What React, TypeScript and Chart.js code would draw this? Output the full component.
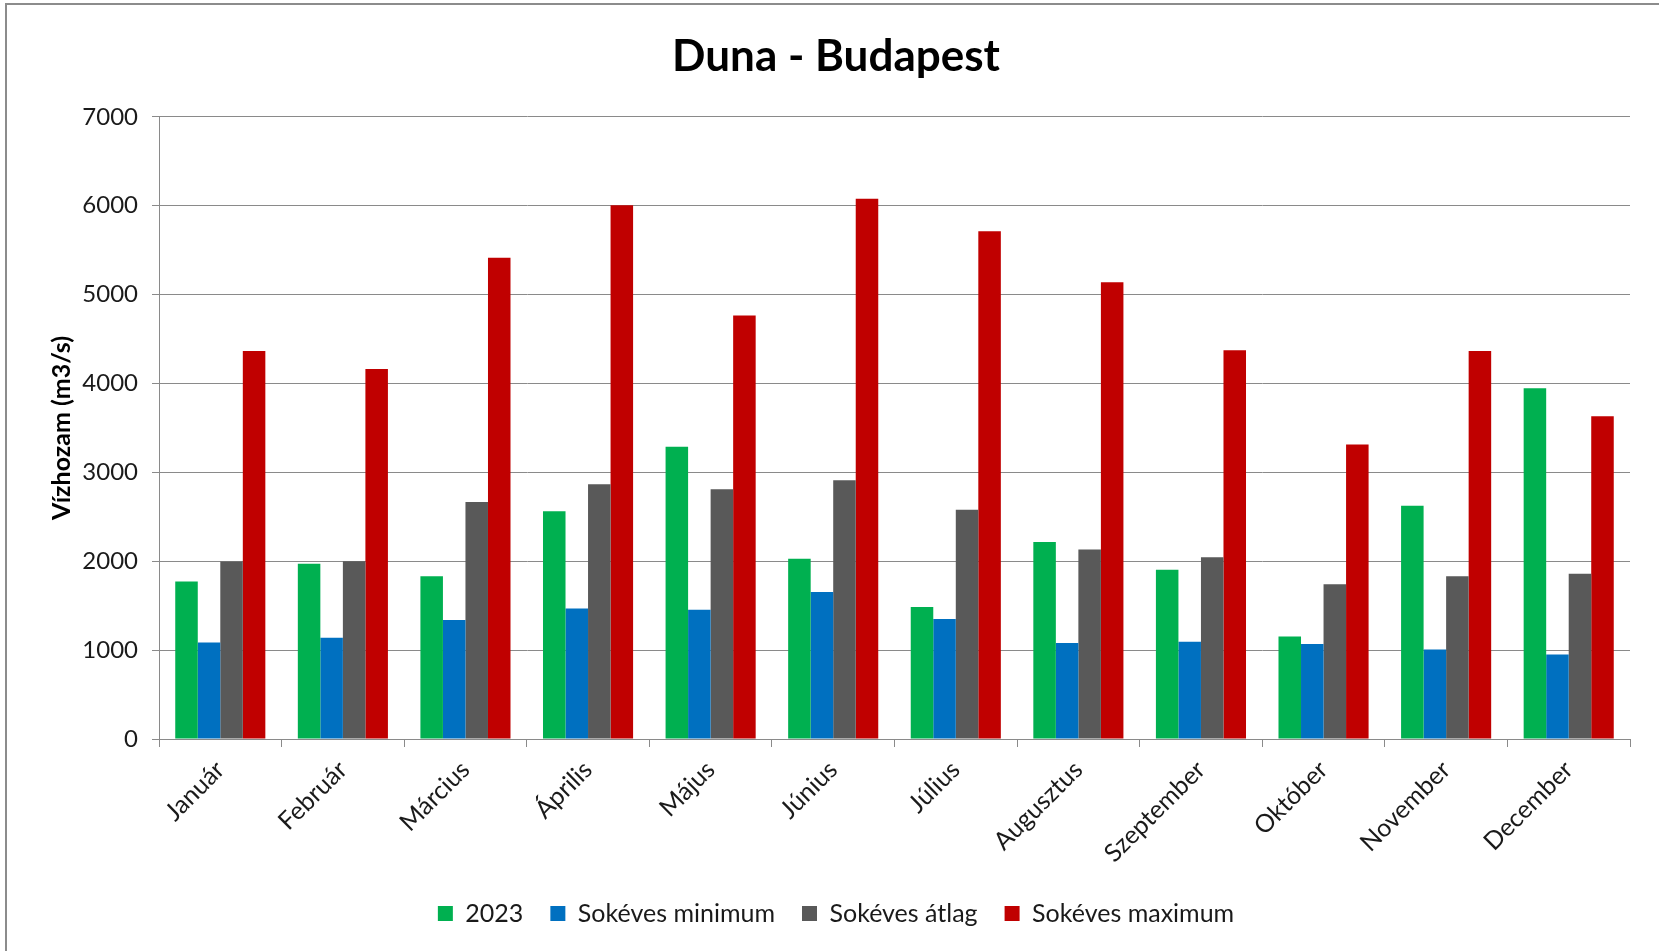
import React, { useEffect, useRef } from "react";
import { Chart, registerables } from "chart.js";

Chart.register(...registerables);

const months = ["Január", "Február", "Március", "Április", "Május", "Június", "Július", "Augusztus", "Szeptember", "Október", "November", "December"];
const year2023 = [1771, 1971, 1830, 2561, 3289, 2029, 1484, 2216, 1904, 1152, 2624, 3946];
const longMin = [1085, 1139, 1339, 1468, 1455, 1655, 1351, 1081, 1094, 1069, 1006, 952];
const longAvg = [1996, 2000, 2665, 2865, 2811, 2911, 2578, 2133, 2046, 1742, 1830, 1859];
const longMax = [4366, 4162, 5414, 6004, 4765, 6079, 5713, 5139, 4374, 3314, 4366, 3630];
const seriesNames = ["2023", "Sokéves minimum", "Sokéves átlag", "Sokéves maximum"];
const seriesColors = ["#00B050", "#0070C0", "#595959", "#C00000"];
const yTicks = [0, 1000, 2000, 3000, 4000, 5000, 6000, 7000];

const FONT = "Lato, 'Open Sans', sans-serif";
const GRID = "#8a8a8a";

const framePlugin = {
  id: "frame",
  beforeDraw(chart: any) {
    const { ctx, width, height } = chart;
    ctx.save();
    ctx.fillStyle = "#ffffff";
    ctx.fillRect(0, 0, width, height);
    ctx.strokeStyle = "#8c8c8c";
    ctx.lineWidth = 2;
    ctx.beginPath();
    ctx.moveTo(6, height);
    ctx.lineTo(6, 4);
    ctx.lineTo(width, 4);
    ctx.stroke();
    ctx.restore();
  },
};

export default function App() {
  const ref = useRef<HTMLCanvasElement | null>(null);
  useEffect(() => {
    document.body.style.margin = "0";
    const canvas = ref.current!;
    const data = [year2023, longMin, longAvg, longMax];
    const chart = new Chart(canvas, {
      type: "bar",
      data: {
        labels: months,
        datasets: seriesNames.map((name, i) => ({
          label: name,
          data: data[i],
          backgroundColor: seriesColors[i],
          borderWidth: 0,
          categoryPercentage: 0.735,
          barPercentage: 1.0,
        })),
      },
      options: {
        animation: false,
        responsive: false,
        maintainAspectRatio: false,
        layout: { padding: { left: 42, right: 29, top: 0, bottom: 15 } },
        plugins: {
          title: {
            display: true,
            text: "Duna - Budapest",
            color: "#000000",
            font: { family: FONT, size: 44, weight: "bold" },
            padding: { top: 30, bottom: 34 },
          },
          legend: {
            position: "bottom",
            labels: {
              color: "#1a1a1a",
              font: { family: FONT, size: 25 },
              boxWidth: 15,
              boxHeight: 15,
              padding: 27,
            },
          },
          tooltip: { enabled: false },
        },
        scales: {
          x: {
            grid: { display: true, drawOnChartArea: false, drawTicks: true, tickLength: 8, offset: true, color: GRID },
            border: { display: true, color: GRID, width: 1 },
            ticks: {
              color: "#1a1a1a",
              font: { family: FONT, size: 25 },
              minRotation: 45,
              maxRotation: 45,
              padding: 8,
              autoSkip: false,
            },
            afterFit(scale: any) {
              scale.height = 135;
            },
          },
          y: {
            min: 0,
            max: 7000,
            afterBuildTicks(scale: any) {
              scale.ticks = yTicks.map((v) => ({ value: v }));
            },
            grid: { color: GRID, tickLength: 7, drawTicks: true },
            border: { display: true, color: GRID, width: 1 },
            ticks: {
              color: "#1a1a1a",
              font: { family: FONT, size: 24 },
              padding: 14,
              callback: (v: any) => String(v),
            },
            title: {
              display: true,
              text: "Vízhozam (m3/s)",
              color: "#000000",
              font: { family: FONT, size: 25, weight: "bold" },
              padding: { top: 5, bottom: 0 },
            },
            afterFit(scale: any) {
              scale.width = 117;
            },
          },
        },
      },
      plugins: [framePlugin],
    });
    return () => chart.destroy();
  }, []);
  return (
    <div style={{ position: "fixed", left: 0, top: 0, width: 1659, height: 951, overflow: "hidden" }}>
      <canvas ref={ref} width={1659} height={951} style={{ display: "block", width: 1659, height: 951 }} />
    </div>
  );
}
